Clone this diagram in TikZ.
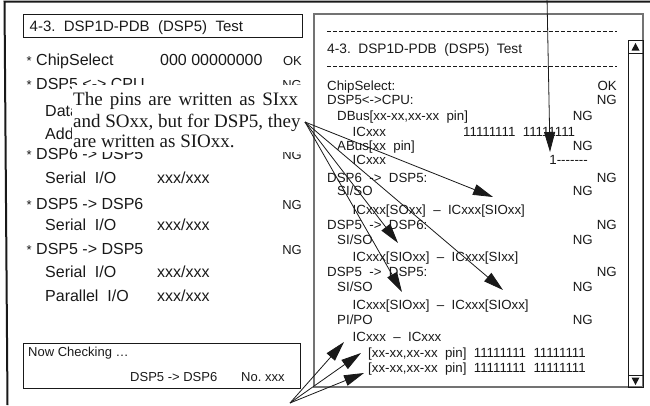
\documentclass[tikz,border=0pt]{standalone}
\usepackage{fontspec}
\setmainfont{Liberation Sans}
\newfontfamily\calloutfont{Liberation Serif}
\usepackage{tikz}
\usetikzlibrary{arrows.meta}
\definecolor{ink}{RGB}{25, 25, 25}
\definecolor{framegray}{RGB}{115, 115, 115}

\begin{document}
\begin{tikzpicture}[x=1pt, y=-1pt,
            scrtxt/.style ={anchor=base west, inner sep=0pt, text=ink, font=\fontsize{16}{16}\selectfont},
            scrmark/.style={anchor=base east, inner sep=0pt, text=ink, font=\fontsize{13}{13}\selectfont},
            scrsmall/.style={anchor=base west, inner sep=0pt, text=ink, font=\fontsize{13}{13}\selectfont},
            logtxt/.style ={anchor=base west, inner sep=0pt, text=ink, font=\fontsize{13.3}{13.3}\selectfont},
            logmark/.style={anchor=base east, inner sep=0pt, text=ink, font=\fontsize{13.3}{13.3}\selectfont},
            calltxt/.style={anchor=base west, inner sep=0pt, text=ink, font=\calloutfont\fontsize{19}{19}\selectfont},
            pointer/.style={-{Triangle[length=20pt, width=11pt]}, line width=0.8pt, ink}]
            \useasboundingbox                                              (0, 0) rectangle (650, 405);
            \draw[ink, line width=2pt]                                     (650, 1.5) -- (4.5, 1.5) -- (7.5, 405);
            \draw[ink, line width=0.8pt]                                   (23, 14) rectangle (302, 37);
            \draw[ink, line width=0.8pt]                                   (23, 343) rectangle (300, 388);
            \node[scrtxt, font=\fontsize{15}{15}\selectfont] (scrtitle) at (29.5, 31.5) {4-3.~~DSP1D-PDB~~(DSP5)~~Test};
            \node[scrsmall] (starcs)   at (26.5, 65.7)  {*};
            \node[scrtxt]   (scrcs)    at (36, 65.7)    {ChipSelect};
            \node[scrtxt]   (scrcsval) at (160, 65.7)   {000 00000000};
            \node[scrmark]  (scrcsok)  at (302, 65.7)   {OK};
            \node[scrsmall] (starcpu)  at (26.5, 89.5)  {*};
            \node[scrtxt]   (scrcpu)   at (36, 89.5)    {DSP5 <-> CPU};
            \node[scrmark]  (scrcpung) at (302, 89.5)   {NG};
            \node[scrtxt]   (scrdata)  at (45, 116.5)   {Data Bus};
            \node[scrtxt]   (scraddr)  at (45, 139)     {Address Bus};
            \node[scrsmall] (starsix)  at (26.5, 159)   {*};
            \node[scrtxt]   (scrsix)   at (36, 159)     {DSP6 -> DSP5};
            \node[scrmark]  (scrsixng) at (302, 159)    {NG};
            \node[scrtxt]   (scrsixsi) at (45, 183.7)   {Serial~~I/O};
            \node[scrtxt]   (scrsixxx) at (157, 183.7)  {xxx/xxx};
            \node[scrsmall] (starto)   at (26.5, 209)   {*};
            \node[scrtxt]   (scrto)    at (36, 209)     {DSP5 -> DSP6};
            \node[scrmark]  (scrtong)  at (302, 209)    {NG};
            \node[scrtxt]   (scrtosi)  at (45, 230.7)   {Serial~~I/O};
            \node[scrtxt]   (scrtoxx)  at (157, 230.7)  {xxx/xxx};
            \node[scrsmall] (starself) at (26.5, 254)   {*};
            \node[scrtxt]   (scrself)  at (36, 254)     {DSP5 -> DSP5};
            \node[scrmark]  (scrselfng) at (302, 254)   {NG};
            \node[scrtxt]   (scrselfsi) at (45, 277)    {Serial~~I/O};
            \node[scrtxt]   (scrselfsx) at (157, 277)   {xxx/xxx};
            \node[scrtxt]   (scrselfpi) at (45, 301.5)  {Parallel~~I/O};
            \node[scrtxt]   (scrselfpx) at (157, 301.5) {xxx/xxx};
            \node[scrsmall] (nowchk)   at (28, 356)     {Now Checking …};
            \node[scrsmall] (nowpair)  at (130, 381.5)  {DSP5 -> DSP6};
            \node[scrsmall] (nowno)    at (241, 381.5)  {No.~xxx};
            \fill[white]                                                   (72, 85) rectangle (306, 152);
            \node[calltxt]  (callone)  at (73, 105)     {\makebox[225pt][s]{The pins are written as SIxx}};
            \node[calltxt]  (calltwo)  at (73, 127)     {and SOxx, but for DSP5, they};
            \node[calltxt]  (callthree) at (73, 147)    {are written as SIOxx.};
            \draw[framegray, line width=1.6pt]                             (314, 14) rectangle (643, 387);
            \draw[ink, line width=0.8pt]                                   (628, 40) rectangle (643, 387);
            \draw[ink, line width=0.8pt]                                   (628, 53) -- (643, 53) (628, 375) -- (643, 375);
            \fill[ink]                                                     (631.5, 50.5) -- (639.5, 50.5) -- (635.5, 43) -- cycle;
            \fill[ink]                                                     (631.5, 377.5) -- (639.5, 377.5) -- (635.5, 385) -- cycle;
            \draw[ink, line width=0.7pt, dash pattern=on 3.5pt off 2.5pt]  (327, 31.5) -- (617, 31.5) (327, 66.5) -- (617, 66.5);
            \node[logtxt, font=\fontsize{13.7}{13.7}\selectfont] (logtitle) at (327, 53) {4-3.~~DSP1D-PDB~~(DSP5)~~Test};
            \node[logtxt]  (logcs)     at (327, 90.5)   {ChipSelect:};
            \node[logmark] (logcsok)   at (617, 90.5)   {OK};
            \node[logtxt]  (logcpu)    at (327, 104)    {DSP5<->CPU:};
            \node[logmark] (logcpung)  at (617, 104)    {NG};
            \node[logtxt]  (logdbus)   at (337, 120)    {DBus[xx-xx,xx-xx~~pin]};
            \node[logmark] (logdbusng) at (593, 120)    {NG};
            \node[logtxt]  (logdic)    at (352.5, 136.5) {ICxxx};
            \node[logtxt]  (logdbits)  at (463, 136.5)  {11111111~~11111111};
            \node[logtxt]  (logabus)   at (337, 150.5)  {ABus[xx~~pin]};
            \node[logmark] (logabusng) at (593, 150.5)  {NG};
            \node[logtxt]  (logaic)    at (352.5, 164.5) {ICxxx};
            \node[logmark] (logabits)  at (588, 164.5)  {1-{}-{}-{}-{}-{}-{}-};
            \node[logtxt]  (logsix)    at (327, 182.5)  {DSP6~~->~~DSP5:};
            \node[logmark] (logsixng)  at (617, 182.5)  {NG};
            \node[logtxt]  (logsixsi)  at (337, 195.5)  {SI/SO};
            \node[logmark] (logsixsing) at (593, 195.5) {NG};
            \node[logtxt]  (logsixic)  at (352.5, 214.5) {ICxxx[SOxx]~~–~~ICxxx[SIOxx]};
            \node[logtxt]  (logto)     at (327, 229)    {DSP5~~->~~DSP6:};
            \node[logmark] (logtong)   at (617, 229)    {NG};
            \node[logtxt]  (logtosi)   at (337, 244)    {SI/SO};
            \node[logmark] (logtosing) at (593, 244)    {NG};
            \node[logtxt]  (logtoic)   at (352.5, 261)  {ICxxx[SIOxx]~~–~~ICxxx[SIxx]};
            \node[logtxt]  (logself)   at (327, 276.5)  {DSP5~~->~~DSP5:};
            \node[logmark] (logselfng) at (617, 276.5)  {NG};
            \node[logtxt]  (logselfsi) at (337, 291.5)  {SI/SO};
            \node[logmark] (logselfsing) at (593, 291.5) {NG};
            \node[logtxt]  (logselfic) at (352.5, 309.5) {ICxxx[SIOxx]~~–~~ICxxx[SIOxx]};
            \node[logtxt]  (logselfpi) at (337, 324.5)  {PI/PO};
            \node[logmark] (logselfping) at (593, 324.5) {NG};
            \node[logtxt]  (logpiic)   at (352.5, 341.5) {ICxxx~~–~~ICxxx};
            \node[logtxt]  (logpione)  at (368, 357.5)  {[xx-xx,xx-xx~~pin]~~11111111~~11111111};
            \node[logtxt]  (logpitwo)  at (368, 372.5)  {[xx-xx,xx-xx~~pin]~~11111111~~11111111};
            \coordinate (callfrom)  at (305, 122);
            \coordinate (tosixic)   at (493, 197);
            \coordinate (totoarrow) at (398, 243);
            \coordinate (toselfa)   at (402, 292);
            \coordinate (toselfb)   at (503, 290);
            \coordinate (topfrom)   at (547, -3);
            \coordinate (tobit)     at (550, 152);
            \coordinate (lowfrom)   at (290, 403);
            \coordinate (topiic)    at (344, 342);
            \coordinate (topione)   at (361, 353);
            \coordinate (topitwo)   at (364, 373);
            \draw[pointer] (callfrom) -- (tosixic);
            \draw[pointer] (callfrom) -- (totoarrow);
            \draw[pointer] (callfrom) -- (toselfa);
            \draw[pointer] (callfrom) -- (toselfb);
            \draw[pointer] (topfrom)  -- (tobit);
            \draw[pointer] (lowfrom)  -- (topiic);
            \draw[pointer] (lowfrom)  -- (topione);
            \draw[pointer] (lowfrom)  -- (topitwo);
            \end{tikzpicture}
\end{document}
